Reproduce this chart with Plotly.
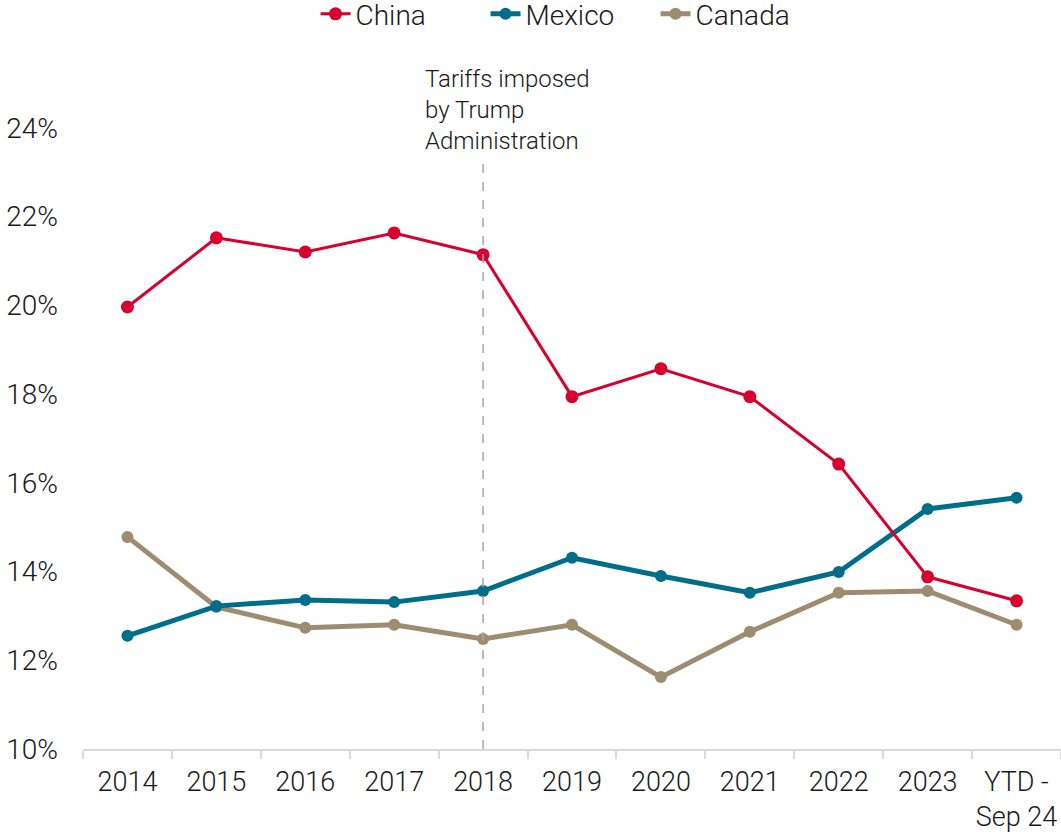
import plotly.graph_objects as go

categories = ["2014", "2015", "2016", "2017", "2018", "2019", "2020", "2021", "2022", "2023", "YTD -<br>Sep 24"]
china = [19.96, 21.52, 21.2, 21.63, 21.14, 17.94, 18.57, 17.94, 16.42, 13.88, 13.34]
mexico = [12.55, 13.22, 13.36, 13.31, 13.56, 14.31, 13.9, 13.52, 13.99, 15.41, 15.66]
canada = [14.78, 13.2, 12.73, 12.8, 12.48, 12.8, 11.62, 12.64, 13.52, 13.56, 12.8]
y_ticks = [10, 12, 14, 16, 18, 20, 22, 24]
event_category = "2018"
event_text = "Tariffs imposed<br>by Trump<br>Administration"

FONT = "Roboto Light, Roboto"
TXT = "#1a1a1a"
fig = go.Figure()
fig.add_trace(go.Scatter(x=categories, y=canada, name="Canada", mode="lines+markers",
                         line=dict(color="#9E8C71", width=5), marker=dict(size=12, color="#9E8C71"),
                         legendrank=3))
fig.add_trace(go.Scatter(x=categories, y=mexico, name="Mexico", mode="lines+markers",
                         line=dict(color="#006E8A", width=5), marker=dict(size=12, color="#006E8A"),
                         legendrank=2))
fig.add_trace(go.Scatter(x=categories, y=china, name="China", mode="lines+markers",
                         line=dict(color="#D7002F", width=3), marker=dict(size=13, color="#D7002F"),
                         legendrank=1))

ev = categories.index(event_category)
fig.add_shape(type="line", xref="x", yref="y", x0=ev, x1=ev, y0=10, y1=23.2,
              line=dict(color="#a6a6a6", width=1.5, dash="dash"))
fig.add_annotation(x=ev, y=23.45, xref="x", yref="y", text=event_text,
                   showarrow=False, xanchor="left", yanchor="bottom", align="left", xshift=-60, yshift=-5,
                   font=dict(family=FONT, size=24, color=TXT, weight=300))

fig.update_layout(
    width=1061, height=832,
    margin=dict(l=83, r=0, t=39, b=83, autoexpand=False),
    paper_bgcolor="white", plot_bgcolor="white",
    font=dict(family=FONT, size=26, color=TXT, weight=300),
    showlegend=True,
    legend=dict(orientation="h", x=0.4985, xanchor="center", yref="container", y=0.983, yanchor="middle",
                font=dict(family=FONT, size=28, color=TXT, weight=300),
                itemwidth=30, entrywidth=125, traceorder="normal"),
)
fig.update_xaxes(type="category", showgrid=False, showline=True, linecolor="#d9d9d9", linewidth=1.5,
                 ticks="outside", tickson="boundaries", ticklen=8, tickcolor="#d9d9d9", tickwidth=1.5,
                 automargin=False, ticklabelstandoff=8, tickangle=0,
                 tickfont=dict(family=FONT, size=27, color=TXT, weight=300), range=[-0.5, 10.5])
fig.update_yaxes(range=[10, 26], tickvals=y_ticks, ticktext=[f"{v}%" for v in y_ticks],
                 showgrid=False, zeroline=False, showline=False, ticks="",
                 automargin=False, ticklabelstandoff=24,
                 tickfont=dict(family=FONT, size=28, color=TXT, weight=300))

fig.write_html("out.html", config={"displayModeBar": False},
               post_script="document.body.style.margin='0';")
